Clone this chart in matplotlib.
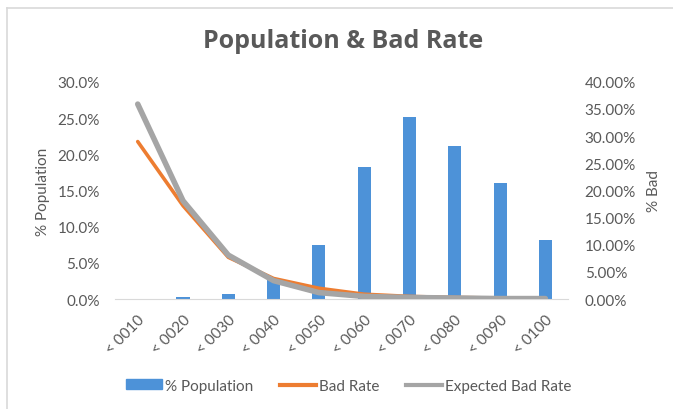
import numpy as np
import matplotlib
matplotlib.use('Agg')
import matplotlib.pyplot as plt
from matplotlib.ticker import FuncFormatter, MultipleLocator
from matplotlib.lines import Line2D
from matplotlib.patches import Patch

plt.rcParams['font.family'] = ['Lato', 'DejaVu Sans']

bins = ['< 0010', '< 0020', '< 0030', '< 0040', '< 0050',
        '< 0060', '< 0070', '< 0080', '< 0090', '< 0100']
population = [0.05, 0.3, 0.7, 2.8, 7.5, 18.3, 25.1, 21.1, 16.0, 8.2]   # %
bad_rate = [29.0, 17.2, 7.7, 3.8, 2.0, 0.9, 0.5, 0.3, 0.2, 0.1]       # %
expected_bad = [35.9, 18.1, 8.1, 3.4, 1.2, 0.5, 0.3, 0.2, 0.1, 0.1]   # %

txt = '#595959'
blue = '#4d92d8'
orange = '#ED7D31'
gray = '#A5A5A5'

fig = plt.figure(figsize=(6.73, 4.10), dpi=100)
ax = fig.add_axes([0.171, 0.268, 0.673, 0.530])
ax2 = ax.twinx()

x = np.arange(len(bins))
ax.bar(x, population, width=0.29, color=blue, zorder=2)
ax.set_xlim(-0.5, len(bins) - 0.5)
ax.set_ylim(0, 30)
ax.yaxis.set_major_locator(MultipleLocator(5))
ax.yaxis.set_major_formatter(FuncFormatter(lambda v, p: '%.1f%%' % v))

ax2.plot(x, bad_rate, color=orange, lw=2.6, solid_capstyle='round', zorder=3)
ax2.plot(x, expected_bad, color=gray, lw=4.0, solid_capstyle='round', zorder=4)
ax2.set_ylim(0, 40)
ax2.yaxis.set_major_locator(MultipleLocator(5))
ax2.yaxis.set_major_formatter(FuncFormatter(lambda v, p: '%.2f%%' % v))

ax.set_xticks(x)
ax.set_xticklabels(bins, rotation=45, ha='right', rotation_mode='anchor')

for a in (ax, ax2):
    for s in a.spines.values():
        s.set_visible(False)
    a.tick_params(length=0, colors=txt, labelsize=11)
ax.spines['bottom'].set_visible(True)
ax.spines['bottom'].set_color('#d9d9d9')
ax.tick_params(axis='x', pad=9)
ax.tick_params(axis='y', pad=11)
ax2.tick_params(axis='y', pad=12)

ax.set_ylabel('% Population', color=txt, fontsize=11, labelpad=5)
ax2.set_ylabel('% Bad', color=txt, fontsize=11, rotation=90, labelpad=8)

fig.text(0.51, 0.898, 'Population & Bad Rate', ha='center', va='center',
         fontsize=18, fontweight='bold', color=txt, family=['Open Sans', 'DejaVu Sans'])

handles = [Patch(color=blue, label='% Population'),
           Line2D([], [], color=orange, lw=3, label='Bad Rate'),
           Line2D([], [], color=gray, lw=3, label='Expected Bad Rate')]
fig.legend(handles=handles, loc='center', bbox_to_anchor=(0.518, 0.057), ncol=3,
           frameon=False, fontsize=11, labelcolor=txt, handlelength=2.4,
           handleheight=0.6, handletextpad=0.2, columnspacing=1.7)

# chart frame (only top and left edges visible in the crop)
fig.add_artist(Line2D([0.0105, 1.0], [0.978, 0.978], color='#d9d9d9', lw=1.2,
                      transform=fig.transFigure))
fig.add_artist(Line2D([0.0105, 0.0105], [0.0, 0.978], color='#d9d9d9', lw=1.2,
                      transform=fig.transFigure))

fig.savefig('out.png', dpi=100)
